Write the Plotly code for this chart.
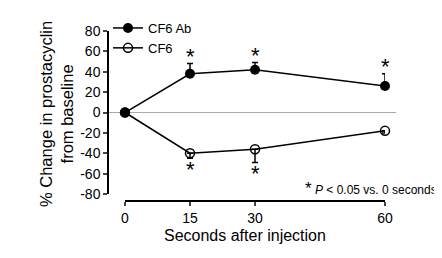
import plotly.graph_objects as go

seconds = [0, 15, 30, 60]
cf6_ab = [0, 38, 42, 26]
cf6_ab_err = [0, 10, 7, 12]
cf6 = [0, -40, -36, -18]
cf6_err = [0, 5, 13, 2]
sig_ab = [15, 30, 60]
sig_cf6 = [15, 30]
y_ticks = [80, 60, 40, 20, 0, -20, -40, -60, -80]
y_ticklabels = ["80", "60", "40", "20", "0", "-20", "-40", "-60", "-80"]
x_ticks = [0, 15, 30, 60]

FONT = "Liberation Sans, Arial, sans-serif"
PH = 170.0  # paper height in px
PW = 277.0  # paper width in px

fig = go.Figure()
fig.add_trace(go.Scatter(
    x=seconds, y=cf6_ab, name="CF6 Ab", mode="lines+markers",
    line=dict(color="black", width=1.5),
    marker=dict(symbol="circle", size=10, color="black"),
    error_y=dict(type="data", symmetric=False, array=cf6_ab_err,
                 arrayminus=[0] * len(cf6_ab_err), color="black",
                 thickness=1.5, width=3),
    cliponaxis=False,
))
fig.add_trace(go.Scatter(
    x=seconds, y=cf6, name="CF6", mode="lines+markers",
    line=dict(color="black", width=1.5),
    marker=dict(symbol="circle-open", size=9, color="black",
                line=dict(width=1.5, color="black")),
    error_y=dict(type="data", symmetric=False, array=[0] * len(cf6_err),
                 arrayminus=cf6_err, color="black", thickness=1.5, width=3),
    cliponaxis=False,
))

# zero reference line
fig.add_shape(type="line", xref="paper", yref="y", x0=0, x1=1.04, y0=0, y1=0,
              line=dict(color="#aaaaaa", width=1), layer="below")

# significance asterisks
for s in sig_ab:
    i = seconds.index(s)
    fig.add_annotation(x=s, y=cf6_ab[i] + cf6_ab_err[i], text="*", showarrow=False,
                       yanchor="bottom", yshift=-7, font=dict(size=22, color="black", family=FONT))
for s in sig_cf6:
    i = seconds.index(s)
    fig.add_annotation(x=s, y=cf6[i] - cf6_err[i], text="*", showarrow=False,
                       yanchor="top", yshift=3, font=dict(size=22, color="black", family=FONT))

fig.add_annotation(xref="paper", yref="paper", x=1.195, y=13 / PH, xanchor="right",
                   yanchor="middle",
                   text="<span style='font-size:17px'>*</span> <i>P</i> < 0.05 vs. 0 seconds",
                   showarrow=False, font=dict(size=12, color="black", family=FONT))

fig.add_annotation(xref="paper", yref="paper", x=(237 - 100) / PW, y=-34 / PH,
                   text="Seconds after injection", showarrow=False, yanchor="middle",
                   font=dict(size=16, color="black", family=FONT))

fig.add_annotation(xref="paper", yref="paper", x=(48 - 100) / PW, y=(193 - 106) / PH,
                   text="% Change in prostacyclin<br>from baseline", textangle=-90,
                   showarrow=False, xanchor="center", yanchor="middle",
                   font=dict(size=16.5, color="black", family=FONT))

fig.update_layout(
    width=442, height=258,
    margin=dict(l=100, r=65, t=23, b=65, autoexpand=False),
    paper_bgcolor="white", plot_bgcolor="white",
    font=dict(family=FONT, size=13, color="black"),
    showlegend=True,
    legend=dict(xref="container", yref="container", x=100 / 442, y=1 - 5 / 258,
                xanchor="left", yanchor="top",
                bgcolor="rgba(0,0,0,0)", font=dict(size=13), tracegroupgap=0),
    xaxis=dict(domain=[17 / PW, 1], range=[0, 60], anchor="free", position=0,
               tickvals=x_ticks, ticks="outside", ticklen=4, tickwidth=1.5,
               showline=True, linecolor="black", linewidth=1.5, showgrid=False,
               zeroline=False, tickfont=dict(size=14), automargin=False),
    yaxis=dict(domain=[7 / PH, 1], range=[-80, 80], anchor="free", position=0,
               tickvals=y_ticks, ticktext=y_ticklabels, ticks="outside", ticklen=4,
               tickwidth=1.5, showline=True, linecolor="black", linewidth=1.5,
               showgrid=False, zeroline=False, tickfont=dict(size=14), automargin=False),
)

fig.write_html("out.html")
